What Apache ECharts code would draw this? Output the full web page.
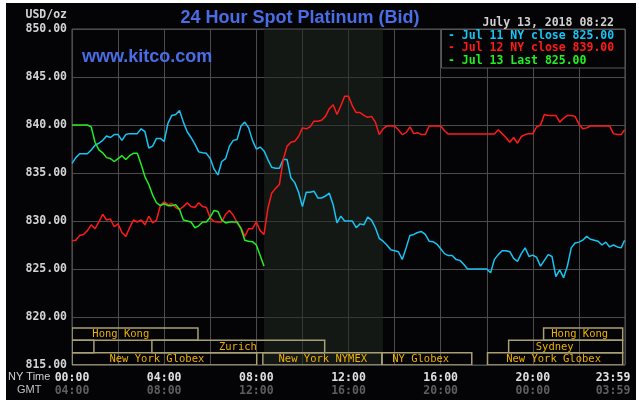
<!DOCTYPE html>
<html>
<head>
<meta charset="utf-8">
<script src="https://cdn.jsdelivr.net/npm/echarts@6/dist/echarts.min.js"></script>
<style>
  html, body { margin: 0; padding: 0; background: #ffffff; }
  #wrap { position: relative; width: 639px; height: 400px; background: #ffffff; overflow: hidden; }
  #chart { position: absolute; left: 6px; top: 3px; width: 630px; height: 397px; }
</style>
</head>
<body>
<div id="wrap"><div id="chart"></div></div>
<script>
// ---- data ----
const minutes = Array.from({ length: 144 }, (_, i) => i * 10).concat([1439]);

const jul11 = [
  836.0, 836.6, 837.0, 837.0, 837.0, 837.4, 837.9, 838.1, 838.4, 838.85,
  838.7, 839.0, 839.0, 838.4, 839.0, 839.1, 839.1, 839.1, 839.6, 839.3,
  837.6, 837.8, 838.6, 838.6, 838.3, 840.2, 841.0, 841.1, 841.5, 840.3,
  839.3, 838.7, 838.0, 837.2, 837.1, 837.05, 836.5, 835.4, 834.8, 836.2,
  836.5, 837.8, 838.4, 838.5, 839.9, 840.3, 839.7, 838.4, 837.5, 837.7,
  837.3, 836.4, 835.6, 835.5, 835.5, 836.4, 836.4, 834.5, 834.0, 833.0,
  831.5, 833.0, 833.0, 833.1, 832.4, 832.4, 832.6, 832.9, 831.7, 829.8,
  830.5, 830.0, 830.0, 830.0, 829.3, 829.7, 829.6, 830.4, 830.1, 829.3,
  828.2, 827.9, 827.5, 827.0, 826.9, 826.8, 826.0, 827.2, 828.5, 828.6,
  828.8, 828.9, 828.6, 827.9, 827.85, 827.6, 827.1, 826.6, 826.4, 826.4,
  826.0, 825.9, 825.5, 825.0, 825.0, 825.0, 825.0, 825.0, 825.0, 824.6,
  826.0, 826.5, 826.9, 826.9, 826.8, 826.1, 825.8, 826.6, 827.2, 826.3,
  826.45, 826.2, 825.3, 825.9, 826.5, 826.3, 824.2, 824.9, 824.1, 825.3,
  827.2, 827.7, 827.8, 828.0, 828.4, 828.1, 828.0, 827.9, 827.5, 827.8,
  827.3, 827.5, 827.3, 827.2, 828.0
];

const jul12 = [
  827.95, 828.0, 828.5, 828.6, 829.0, 829.6, 829.2, 829.9, 830.7, 830.1,
  830.2, 829.4, 829.7, 828.8, 828.4, 829.3, 830.1, 829.9, 830.1, 829.6,
  830.5, 829.8, 830.1, 831.6, 832.0, 831.7, 831.8, 831.4, 831.2, 831.5,
  831.9, 831.5, 831.4, 831.9, 831.5, 831.4, 830.3, 829.95, 829.9, 829.9,
  830.7, 831.1, 830.6, 829.8, 829.3, 828.4, 829.2, 829.2, 829.9, 829.0,
  828.6, 831.3, 832.9, 833.4, 833.8, 836.4, 837.8, 838.2, 838.3, 838.8,
  839.7, 839.6, 839.8, 840.4, 840.4, 840.5, 840.9, 841.7, 842.1, 841.1,
  842.0, 843.0, 843.0, 842.0, 841.3, 841.3, 841.0, 840.8, 840.9, 840.3,
  839.0, 839.6, 839.9, 839.9, 839.9, 839.5, 839.0, 839.2, 839.8, 839.1,
  839.2, 839.0, 839.0, 839.9, 839.9, 839.9, 839.9, 839.4, 839.05, 839.05,
  839.05, 839.05, 839.05, 839.05, 839.05, 839.05, 839.05, 839.05, 839.05, 839.05,
  839.05, 839.5, 839.1, 838.7, 838.2, 838.7, 838.1, 838.8, 839.0, 839.1,
  839.1, 839.8, 840.0, 841.1, 841.0, 841.0, 841.0, 840.3, 840.7, 841.0,
  841.0, 840.9, 840.1, 839.6, 839.7, 839.9, 839.9, 839.9, 839.9, 839.9,
  839.9, 839.1, 839.0, 839.0, 839.5
];

const jul13 = [
  840.0, 840.0, 840.0, 840.0, 840.0, 839.8, 838.2, 837.4, 837.1, 836.6,
  836.5, 836.2, 836.5, 836.8, 836.4, 836.8, 837.05, 837.05, 835.9, 834.6,
  833.8, 832.7, 831.9, 831.6, 831.8, 831.6, 831.6, 831.7, 831.2, 830.1,
  830.0, 829.9, 829.3, 829.5, 829.9, 829.9, 830.4, 831.1, 831.0, 830.1,
  829.8, 829.9, 829.9, 829.9, 829.2, 828.0, 827.9, 827.85, 827.5, 826.4,
  825.3
];

const legendLines = ['- Jul 11 NY close 825.00', '- Jul 12 NY close 839.00', '- Jul 13 Last 825.00'];
const yTicks = [815, 820, 825, 830, 835, 840, 845, 850];
const xTickNY = ['00:00', '04:00', '08:00', '12:00', '16:00', '20:00', '23:59'];
const xTickGMT = ['04:00', '08:00', '12:00', '16:00', '20:00', '00:00', '03:59'];
const nymexOpen = [500, 810];

// market sessions: [start min, end min, row, label centre min, name]
const sessions = [
  [0, 328, 0, 127, 'Hong Kong'],
  [1228, 1434, 0, 1322, 'Hong Kong'],
  [0, 57, 1, null, ''],
  [208, 658, 1, 432, 'Zurich'],
  [1137, 1434, 1, 1257, 'Sydney'],
  [0, 481, 2, 221, 'New York Globex'],
  [497, 807, 2, 653, 'New York NYMEX'],
  [807, 1041, 2, 908, 'NY Globex'],
  [1082, 1434, 2, 1254, 'New York Globex']
];

// ---- chart ----
const OX = 6, OY = 3;
const X = v => v - OX, Y = v => v - OY;
const chart = echarts.init(document.getElementById('chart'), null, { renderer: 'canvas' });
const mono = "'DejaVu Sans Mono', monospace";
const pair = arr => minutes.slice(0, arr.length).map((t, i) => [t, arr[i]]);

const option = {
  backgroundColor: '#040406',
  animation: false,
  grid: {
    left: X(72), top: Y(29), right: 636 - 625, bottom: 400 - 365,
    containLabel: false, outerBoundsMode: 'none',
    show: true, borderColor: '#585858', borderWidth: 1, backgroundColor: 'transparent'
  },
  xAxis: {
    type: 'value', min: 0, max: 1440, interval: 120,
    axisLine: { show: false }, axisTick: { show: false },
    splitLine: { show: true, lineStyle: { color: '#4c4c4c', width: 1 } },
    axisLabel: {
      margin: 7, showMinLabel: true, showMaxLabel: true,
      formatter: v => {
        if (v % 240 !== 0) return '';
        const i = v / 240;
        if (i === 6) return '{c|' + xTickNY[i] + '}\n{d|' + xTickGMT[i] + '}';
        return '{a|' + xTickNY[i] + '}\n{b|' + xTickGMT[i] + '}';
      },
      rich: {
        a: { color: '#e0e0e0', fontFamily: mono, fontWeight: 'bold', fontSize: 11.5, lineHeight: 13 },
        b: { color: '#5e5e5e', fontFamily: mono, fontWeight: 'bold', fontSize: 11.5, lineHeight: 13 },
        c: { color: '#e0e0e0', fontFamily: mono, fontWeight: 'bold', fontSize: 11.5, lineHeight: 13, padding: [0, 24, 0, 0] },
        d: { color: '#5e5e5e', fontFamily: mono, fontWeight: 'bold', fontSize: 11.5, lineHeight: 13, padding: [0, 24, 0, 0] }
      }
    }
  },
  yAxis: {
    type: 'value', min: yTicks[0], max: yTicks[yTicks.length - 1], interval: 5,
    axisLine: { show: false }, axisTick: { show: false },
    splitLine: { show: true, lineStyle: { color: '#4c4c4c', width: 1 } },
    axisLabel: {
      margin: 5, color: '#d4d4d4', fontFamily: mono, fontWeight: 'bold', fontSize: 11.5,
      formatter: v => v.toFixed(2)
    }
  },
  graphic: [
    { type: 'text', z: 5, style: { x: X(300), y: Y(18), text: '24 Hour Spot Platinum (Bid)', fill: '#4a6de6',
      font: "bold 18px 'Liberation Sans', Arial, sans-serif", align: 'center', verticalAlign: 'middle' } },
    { type: 'text', z: 5, style: { x: X(82), y: Y(57), text: 'www.kitco.com', fill: '#4a6de6',
      font: "bold 18px 'Liberation Sans', Arial, sans-serif", align: 'left', verticalAlign: 'middle' } },
    { type: 'text', z: 5, style: { x: X(67), y: Y(15), text: 'USD/oz', fill: '#d4d4d4',
      font: "bold 11.5px " + mono, align: 'right', verticalAlign: 'middle' } },
    { type: 'text', z: 5, style: { x: X(614), y: Y(23), text: 'July 13, 2018 08:22', fill: '#d0d0d0',
      font: "bold 11.5px " + mono, align: 'right', verticalAlign: 'middle' } },
    { type: 'rect', z: 10, shape: { x: X(441.5), y: Y(29.5), width: 183.5, height: 38.5 },
      style: { fill: '#040406', stroke: '#585858', lineWidth: 1 } },
    { type: 'text', z: 11, style: { x: X(448), y: Y(36), text: legendLines[0], fill: '#18c4f4',
      font: "bold 11.5px " + mono, align: 'left', verticalAlign: 'middle' } },
    { type: 'text', z: 11, style: { x: X(448), y: Y(48.5), text: legendLines[1], fill: '#ff1a1a',
      font: "bold 11.5px " + mono, align: 'left', verticalAlign: 'middle' } },
    { type: 'text', z: 11, style: { x: X(448), y: Y(61), text: legendLines[2], fill: '#22ee22',
      font: "bold 11.5px " + mono, align: 'left', verticalAlign: 'middle' } },
    { type: 'text', z: 5, style: { x: X(8), y: Y(377), text: 'NY Time', fill: '#d0d0d0',
      font: "11px 'Liberation Sans', Arial, sans-serif", align: 'left', verticalAlign: 'middle' } },
    { type: 'text', z: 5, style: { x: X(17), y: Y(390), text: 'GMT', fill: '#c0c0c0',
      font: "11px 'Liberation Sans', Arial, sans-serif", align: 'left', verticalAlign: 'middle' } }
  ],
  series: [
    {
      type: 'line', name: 'shade', data: [], silent: true, z: 1,
      markArea: {
        silent: true,
        itemStyle: { color: 'rgba(34,42,34,0.55)' },
        data: [[{ xAxis: nymexOpen[0] }, { xAxis: nymexOpen[1] }]]
      }
    },
    {
      type: 'custom', name: 'markets', silent: true, z: 3, clip: true,
      data: sessions,
      renderItem: (params, api) => {
        const s = sessions[params.dataIndex];
        const y820 = api.coord([0, 820])[1];
        const y815 = api.coord([0, 815])[1];
        const top = y820 + 11;
        const rowH = (y815 - top) / 3;
        const x0 = api.coord([s[0], 820])[0];
        const x1 = api.coord([s[1], 820])[0];
        const yT = top + s[2] * rowH;
        const children = [{
          type: 'rect',
          shape: { x: x0, y: yT, width: x1 - x0, height: rowH },
          style: { fill: null, stroke: '#a8a070', lineWidth: 1.5 }
        }];
        if (s[4]) {
          children.push({
            type: 'text',
            style: { x: api.coord([s[3], 820])[0], y: yT + rowH / 2 + 0.5, text: s[4], fill: '#eeb000',
              font: "10.5px " + mono, align: 'center', verticalAlign: 'middle' }
          });
        }
        return { type: 'group', children };
      }
    },
    { type: 'line', name: 'Jul 11', data: pair(jul11), showSymbol: false, symbol: 'none', z: 4,
      lineStyle: { color: '#18c4f4', width: 1.5 } },
    { type: 'line', name: 'Jul 12', data: pair(jul12), showSymbol: false, symbol: 'none', z: 4,
      lineStyle: { color: '#ff1a1a', width: 1.5 } },
    { type: 'line', name: 'Jul 13', data: pair(jul13), showSymbol: false, symbol: 'none', z: 5,
      lineStyle: { color: '#22ee22', width: 1.5 } }
  ]
};
chart.setOption(option);
</script>
</body>
</html>
